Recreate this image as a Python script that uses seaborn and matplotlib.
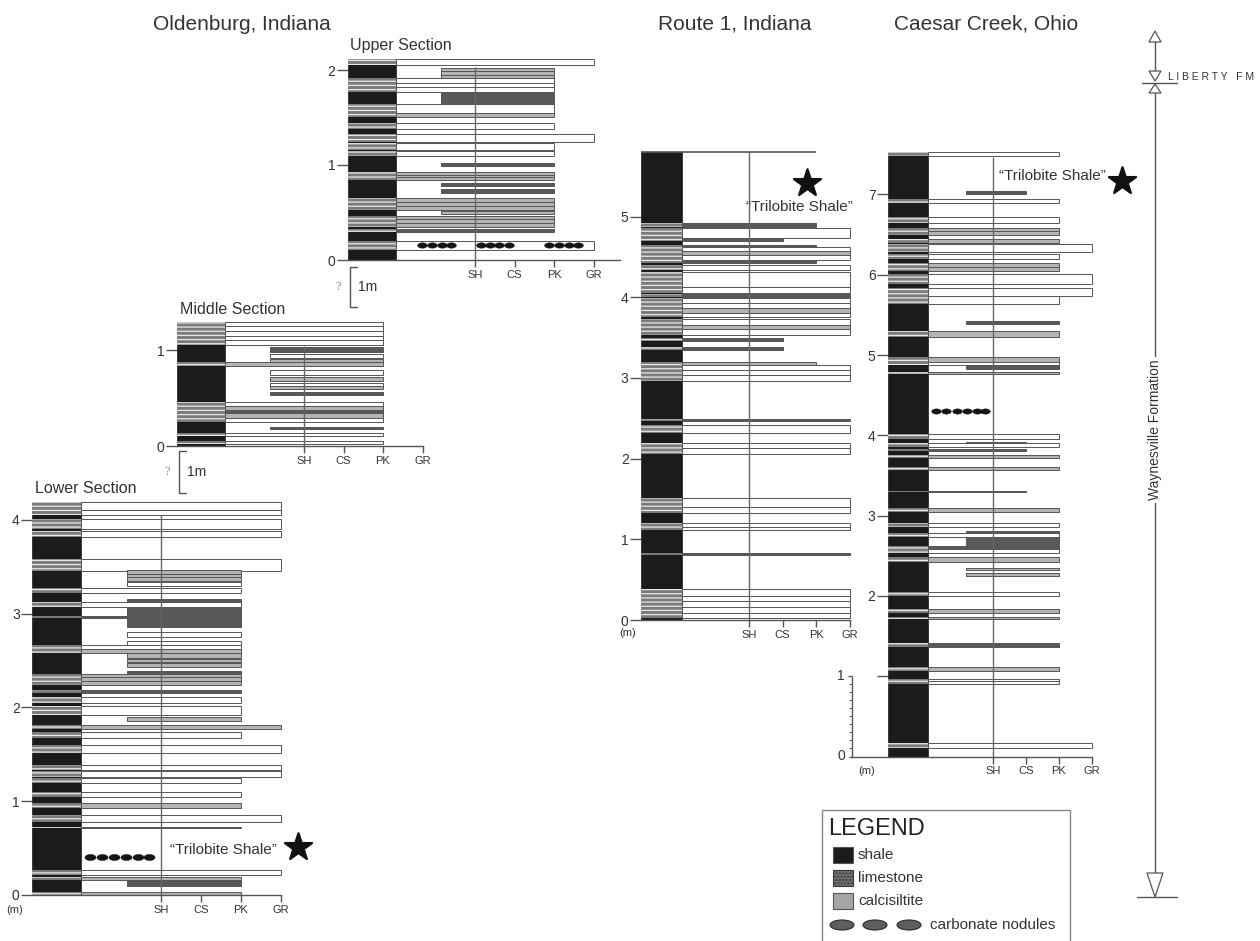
import numpy as np
import matplotlib
matplotlib.use("Agg")
import matplotlib.pyplot as plt
from matplotlib.path import Path
from matplotlib.patches import Rectangle, Polygon, Ellipse
import seaborn as sns

sns.set_theme(style="white")
plt.rcParams["font.family"] = ["Liberation Sans", "DejaVu Sans"]
plt.rcParams["hatch.linewidth"] = 0.9

W, H = 1260, 941
INK = "#333333"
EDGE = "#555555"
SHALE = "#1b1b1b"
FILL = {"w": "white", "c": "#b4b4b4", "l": "#595959"}
GRAIN = {"CS": 4.0, "PK": 5.0, "GR": 6.0}
START = {"C": 1.0, "M": 2.15}
COL_LEFT = -0.22
SH = 3.0
grain_ticks = [3, 4, 5, 6]
grain_labels = ["SH", "CS", "PK", "GR"]

# ---------------- Oldenburg, Indiana : lower section ----------------
lower_base = [4.10, 4.05, 3.90, 3.82, 3.45, 3.42, 3.39, 3.35, 3.29, 3.22, 2.86, 3.07, 2.95, 2.75,
              2.67, 2.62, 2.58, 2.53, 2.48, 2.43, 2.36, 2.32, 2.28, 2.24, 2.15, 2.05, 1.92, 1.86,
              1.77, 1.67, 1.51, 1.33, 1.26, 1.19, 1.04, 0.93, 0.78, 0.71, 0.21, 0.16, 0.10, 0.00]
lower_top = [4.19, 4.10, 4.01, 3.88, 3.58, 3.46, 3.42, 3.39, 3.34, 3.27, 3.16, 3.12, 2.97, 2.80,
             2.71, 2.67, 2.62, 2.58, 2.52, 2.47, 2.39, 2.36, 2.32, 2.28, 2.19, 2.11, 2.01, 1.90,
             1.81, 1.74, 1.60, 1.39, 1.32, 1.25, 1.10, 0.98, 0.85, 0.73, 0.27, 0.19, 0.16, 0.03]
lower_start = list("CCCCCMMMMCMCCMMCCMMMMCCCCCCMCCCCCCCCCCCCMC")
lower_reach = ("GR GR GR GR GR PK PK PK PK PK PK PK PK PK PK PK PK PK PK PK PK PK PK PK PK PK PK PK "
               "GR PK GR GR GR PK PK PK GR PK GR PK PK PK").split()
lower_fill = list("wwwwwcccwwlwlwwwcccclccclwwccwwwwwwcwlwclc")
lower_col_top = 4.19
lower_nodules_x = [1.22, 1.52, 1.82, 2.12, 2.42, 2.70]
lower_nodules_level = 0.40
lower_marker = (6.43, 0.51)
lower_label = (4.55, 0.48)

# ---------------- Oldenburg, Indiana : middle section ----------------
middle_base = [1.25, 1.20, 1.15, 1.10, 1.05, 0.98, 0.92, 0.88, 0.83, 0.74, 0.68, 0.62, 0.59, 0.53,
               0.42, 0.38, 0.34, 0.29, 0.25, 0.18, 0.10, 0.02]
middle_top = [1.29, 1.25, 1.20, 1.15, 1.10, 1.03, 0.96, 0.91, 0.87, 0.79, 0.72, 0.66, 0.62, 0.56,
              0.46, 0.42, 0.38, 0.34, 0.29, 0.20, 0.14, 0.05]
middle_start = list("CCCCCMMMCMMMMMCCCCCMCC")
middle_reach = ["PK"] * 22
middle_fill = list("wwwwwlwccwcwclwclcwlww")
middle_col_top = 1.29

# ---------------- Oldenburg, Indiana : upper section ----------------
upper_base = [2.05, 1.99, 1.95, 1.92, 1.86, 1.82, 1.77, 1.64, 1.55, 1.51, 1.38, 1.24, 1.16, 1.10,
              0.99, 0.90, 0.87, 0.84, 0.78, 0.71, 0.61, 0.57, 0.53, 0.48, 0.43, 0.39, 0.35, 0.30, 0.11]
upper_top = [2.12, 2.02, 1.99, 1.95, 1.92, 1.86, 1.82, 1.76, 1.64, 1.55, 1.44, 1.33, 1.23, 1.15,
             1.02, 0.93, 0.90, 0.87, 0.81, 0.75, 0.65, 0.61, 0.57, 0.52, 0.46, 0.43, 0.39, 0.33, 0.20]
upper_start = list("CMMMCCCMCCCCCCMCCCMMCCCMCCCCC")
upper_reach = ["GR"] + ["PK"] * 10 + ["GR"] + ["PK"] * 16 + ["GR"]
upper_fill = list("wcccwwwlwcwwwwlcccllccccccclw")
upper_col_top = 2.12
upper_nodules_x = [1.66, 1.91, 2.16, 2.39, 3.15, 3.38, 3.61, 3.86, 4.87, 5.13, 5.38, 5.61]
upper_nodules_level = 0.16

# ---------------- Route 1, Indiana ----------------
route_base = [4.87, 4.73, 4.70, 4.62, 4.57, 4.52, 4.46, 4.42, 4.34, 4.13, 4.05, 4.00, 3.93, 3.87,
              3.81, 3.75, 3.66, 3.60, 3.53, 3.46, 3.35, 3.16, 3.10, 3.03, 2.96, 2.47, 2.32, 2.13,
              2.06, 1.40, 1.33, 1.15, 1.11, 0.80, 0.30, 0.23, 0.16, 0.09, 0.02]
route_top = [4.92, 4.86, 4.73, 4.65, 4.62, 4.57, 4.52, 4.46, 4.40, 4.31, 4.13, 4.04, 3.99, 3.93,
             3.87, 3.81, 3.73, 3.66, 3.60, 3.49, 3.38, 3.20, 3.16, 3.10, 3.03, 2.49, 2.42, 2.19,
             2.13, 1.51, 1.40, 1.20, 1.15, 0.83, 0.38, 0.30, 0.23, 0.16, 0.09]
route_start = ["C"] * 39
route_reach = ("PK GR CS PK GR GR GR PK GR GR GR GR GR GR GR GR GR GR GR CS CS PK "
               "GR GR GR GR GR GR GR GR GR GR GR GR GR GR GR GR GR").split()
route_fill = list("lwllwcwlwwwlwwcwwcwllcwwwlwwwwwwwlwwwww")
route_col_top = 5.80
route_marker = (4.73, 5.42)
route_label = (4.52, 5.12)

# ---------------- Caesar Creek, Ohio ----------------
caesar_base = [7.48, 7.00, 6.89, 6.65, 6.54, 6.49, 6.39, 6.28, 6.20, 6.10, 6.05, 5.88, 5.73, 5.64,
               5.39, 5.22, 4.91, 4.87, 4.82, 4.76, 3.96, 3.90, 3.85, 3.80, 3.72, 3.57, 3.29, 3.04,
               2.86, 2.78, 2.73, 2.64, 2.59, 2.53, 2.42, 2.32, 2.25, 2.00, 1.79, 1.71, 1.36, 1.07,
               0.94, 0.90, 0.10]
caesar_top = [7.53, 7.04, 6.94, 6.72, 6.58, 6.54, 6.44, 6.38, 6.26, 6.14, 6.10, 6.01, 5.84, 5.73,
              5.42, 5.30, 4.97, 4.91, 4.87, 4.79, 4.02, 3.92, 3.90, 3.83, 3.75, 3.60, 3.31, 3.09,
              2.91, 2.81, 2.78, 2.73, 2.62, 2.58, 2.49, 2.35, 2.29, 2.05, 1.84, 1.74, 1.41, 1.11,
              0.97, 0.94, 0.17]
caesar_start = list("CMCCCCCCCCCCCCMCCCMCCMCCCCCCCMCMCCCMMCCCCCCCC")
caesar_reach = ("PK CS PK PK PK PK PK GR PK PK PK GR GR PK PK PK PK PK PK PK PK CS PK CS PK PK CS "
                "PK PK PK PK PK PK PK PK PK PK PK PK PK PK PK PK PK GR").split()
caesar_fill = list("wlwwcccwwccwwwlccwlcwlwlcclcwlwllwcccwcclcwww")
caesar_col_top = 7.52
caesar_nodules_x = [1.24, 1.55, 1.89, 2.20, 2.50, 2.75]
caesar_nodules_level = 4.30
caesar_marker = (6.93, 7.17)
caesar_label = (4.82, 7.23)

# nodule glyph: flattened ellipse
_t = np.linspace(0, 2 * np.pi, 41)
NODULE = Path(np.column_stack([np.cos(_t), 0.55 * np.sin(_t)]), closed=True)

fig = plt.figure(figsize=(W / 100, H / 100), dpi=100)


def place(col_right_px, sx, zero_px, sy, ylim_top, xlim=(COL_LEFT, 7.3)):
    left = col_right_px + (xlim[0] - 1) * sx
    right = col_right_px + (xlim[1] - 1) * sx
    top = zero_px - ylim_top * sy
    ax = fig.add_axes([left / W, 1 - zero_px / H, (right - left) / W, (zero_px - top) / H])
    ax.set_xlim(*xlim)
    ax.set_ylim(0, ylim_top)
    ax.patch.set_alpha(0)
    return ax


def draw_section(ax, base, top, start, reach, fill, col_top, sh_top, yticks, axis_end=6.0):
    base = np.asarray(base, float)
    top = np.asarray(top, float)
    left = np.array([START[s] for s in start])
    right = np.array([GRAIN[r] for r in reach])
    thick = top - base
    # shale background of the lithology column
    ax.bar(COL_LEFT, col_top, width=1 - COL_LEFT, bottom=0, align="edge",
           color=SHALE, edgecolor=SHALE, linewidth=0.5, zorder=1)
    # carbonate beds traced through the lithology column
    full = left == 1.0
    ax.barh(base[full], 1 - COL_LEFT, height=thick[full], left=COL_LEFT, align="edge",
            color="#7b7b7b", edgecolor="#e8e8e8", linewidth=0, hatch="----", zorder=2)
    # bed texture bars
    ax.barh(base, right - left, height=thick, left=left, align="edge",
            color=[FILL[f] for f in fill], edgecolor=EDGE, linewidth=0.7, zorder=2)
    ax.vlines(SH, 0, sh_top, color="#666666", linewidth=1.0, zorder=3)

    for s in ("top", "right", "left"):
        ax.spines[s].set_visible(False)
    ax.spines["bottom"].set_bounds(COL_LEFT, axis_end)
    ax.spines["bottom"].set_color(EDGE)
    ax.spines["bottom"].set_linewidth(1.0)
    ax.set_xticks(grain_ticks, grain_labels)
    ax.set_yticks(yticks)
    ax.tick_params(axis="x", bottom=True, direction="out", length=5, width=1, color=EDGE,
                   labelsize=8, labelcolor=INK, pad=2)
    ax.tick_params(axis="y", left=True, direction="out", length=8, width=1, color=EDGE,
                   labelsize=10, labelcolor=INK, pad=1)
    ax.grid(False)


def nodules(ax, xs, level, size):
    sns.scatterplot(x=xs, y=[level] * len(xs), marker=NODULE, s=size, color="#151515",
                    edgecolor="#151515", linewidth=0.3, ax=ax, legend=False, zorder=5)


def trilobite(ax, marker_xy, label_xy):
    sns.scatterplot(x=[marker_xy[0]], y=[marker_xy[1]], marker="*", s=420, color="#111111",
                    edgecolor="#111111", ax=ax, legend=False, zorder=6, clip_on=False)
    ax.text(label_xy[0], label_xy[1], "\u201cTrilobite Shale\u201d", ha="center", va="center",
            fontsize=11, color=INK, zorder=6, clip_on=False)


# Oldenburg lower
ax_low = place(81, 40.0, 895, 93.8, 4.4)
draw_section(ax_low, lower_base, lower_top, lower_start, lower_reach, lower_fill,
             lower_col_top, 4.05, [0, 1, 2, 3, 4])
nodules(ax_low, lower_nodules_x, lower_nodules_level, 64)
trilobite(ax_low, lower_marker, lower_label)

# Oldenburg middle
ax_mid = place(225, 39.5, 446, 96.0, 1.4)
draw_section(ax_mid, middle_base, middle_top, middle_start, middle_reach, middle_fill,
             middle_col_top, 1.04, [0, 1])

# Oldenburg upper
ax_up = place(396, 39.5, 260, 95.0, 2.25)
draw_section(ax_up, upper_base, upper_top, upper_start, upper_reach, upper_fill,
             upper_col_top, 2.03, [0, 1, 2], axis_end=6.67)
nodules(ax_up, upper_nodules_x, upper_nodules_level, 50)

# Route 1
ax_rt = place(682, 33.5, 620, 80.7, 5.95)
draw_section(ax_rt, route_base, route_top, route_start, route_reach, route_fill,
             route_col_top, route_col_top, [0, 1, 2, 3, 4, 5])
ax_rt.hlines(route_col_top, COL_LEFT, GRAIN["PK"], color=EDGE, linewidth=1.2, zorder=3)
trilobite(ax_rt, route_marker, route_label)

# Caesar Creek
ax_cc = place(928, 32.7, 756.5, 80.3, 7.7)
draw_section(ax_cc, caesar_base, caesar_top, caesar_start, caesar_reach, caesar_fill,
             caesar_col_top, 7.47, [1, 2, 3, 4, 5, 6, 7])
ax_cc.set_yticklabels(["", "2", "3", "4", "5", "6", "7"])
nodules(ax_cc, caesar_nodules_x, caesar_nodules_level, 48)
trilobite(ax_cc, caesar_marker, caesar_label)
# one-metre ruler at the foot of the Caesar Creek column
ax_cc.hlines(0, -1.42, COL_LEFT, color=EDGE, linewidth=1.0, clip_on=False)
ax_cc.vlines(-1.32, 0, 1, color=EDGE, linewidth=1.0, clip_on=False)
ax_cc.hlines(np.arange(0.1, 1.0, 0.1), -1.41, -1.32, color=EDGE, linewidth=0.7, clip_on=False)
ax_cc.hlines(1, -1.45, -1.32, color=EDGE, linewidth=1.0, clip_on=False)
ax_cc.text(-1.66, 1.0, "1", ha="center", va="center", fontsize=10, color=INK, clip_on=False)
ax_cc.text(-1.66, 0.0, "0", ha="center", va="center", fontsize=10, color=INK, clip_on=False)

# ---------------- overlay: titles, scale brackets, formation bar, legend ----------------
ov = fig.add_axes([0, 0, 1, 1])
ov.set_xlim(0, W)
ov.set_ylim(H, 0)
ov.axis("off")
ov.patch.set_alpha(0)

for x, y, s in [(242, 24, "Oldenburg, Indiana"), (735, 24, "Route 1, Indiana"),
                (986, 24, "Caesar Creek, Ohio")]:
    ov.text(x, y, s, ha="center", va="center", fontsize=15, color=INK)
for x, y, s in [(350, 45, "Upper Section"), (180, 309, "Middle Section"), (35, 488, "Lower Section")]:
    ov.text(x, y, s, ha="left", va="center", fontsize=11.5, color=INK)
for x, y in [(15, 910), (628, 633), (867, 771)]:
    ov.text(x, y, "(m)", ha="center", va="center", fontsize=8, color=INK)

# gap brackets between the Oldenburg sections
for bx, by0, by1 in [(350, 267, 307), (179, 451, 493)]:
    ov.plot([bx + 7, bx, bx, bx + 7], [by0, by0, by1, by1], color=EDGE, linewidth=1.0)
    ov.text(bx - 12, (by0 + by1) / 2, "?", ha="center", va="center", fontsize=9,
            color="#888888", family="Liberation Serif")
    ov.text(bx + 8, (by0 + by1) / 2, "1m", ha="left", va="center", fontsize=10, color=INK)

# formation bar
fx = 1155
tri_kw = dict(closed=True, facecolor="white", edgecolor=EDGE, linewidth=0.9, zorder=3)
ov.add_patch(Polygon([(fx - 6, 42), (fx + 6, 42), (fx, 31)], **tri_kw))
ov.add_patch(Polygon([(fx - 6, 71), (fx + 6, 71), (fx, 81)], **tri_kw))
ov.add_patch(Polygon([(fx - 6, 93), (fx + 6, 93), (fx, 84)], **tri_kw))
ov.add_patch(Polygon([(fx - 8, 873), (fx + 8, 873), (fx, 897)], **tri_kw))
ov.plot([fx, fx], [42, 71], color=EDGE, linewidth=1.0)
ov.plot([fx, fx], [93, 873], color=EDGE, linewidth=1.0)
ov.plot([1142, 1177], [82.5, 82.5], color=EDGE, linewidth=1.0)
ov.plot([1137, 1177], [897, 897], color=EDGE, linewidth=1.0)
ov.text(1168, 77, "L I B E R T Y   F M", ha="left", va="center", fontsize=7.5, color=INK)
ov.text(fx, 430, "Waynesville Formation", ha="center", va="center", rotation=90, fontsize=10,
        color=INK, bbox=dict(facecolor="white", edgecolor="none", pad=2), zorder=4)

# legend box
ov.add_patch(Rectangle((822, 810), 248, 150, facecolor="white", edgecolor="#888888", linewidth=1.0))
ov.text(828, 829, "LEGEND", ha="left", va="center", fontsize=17, color="#222222")
ov.add_patch(Rectangle((833, 847), 20, 16, facecolor=SHALE, edgecolor=EDGE, linewidth=0.8))
ov.add_patch(Rectangle((833, 870), 20, 16, facecolor="#6e6e6e", edgecolor="#3a3a3a",
                       linewidth=0.8, hatch="....."))
ov.add_patch(Rectangle((833, 893), 20, 16, facecolor="#a6a6a6", edgecolor=EDGE, linewidth=0.8))
for y, s in [(855, "shale"), (878, "limestone"), (901, "calcisiltite")]:
    ov.text(858, y, s, ha="left", va="center", fontsize=11, color=INK)
for cx in (842, 875, 909):
    ov.add_patch(Ellipse((cx, 925), 24, 10, facecolor="#5e5e5e", edgecolor="#2a2a2a", linewidth=0.8))
ov.text(930, 925, "carbonate nodules", ha="left", va="center", fontsize=11, color=INK)

fig.savefig("out.png", dpi=100)
